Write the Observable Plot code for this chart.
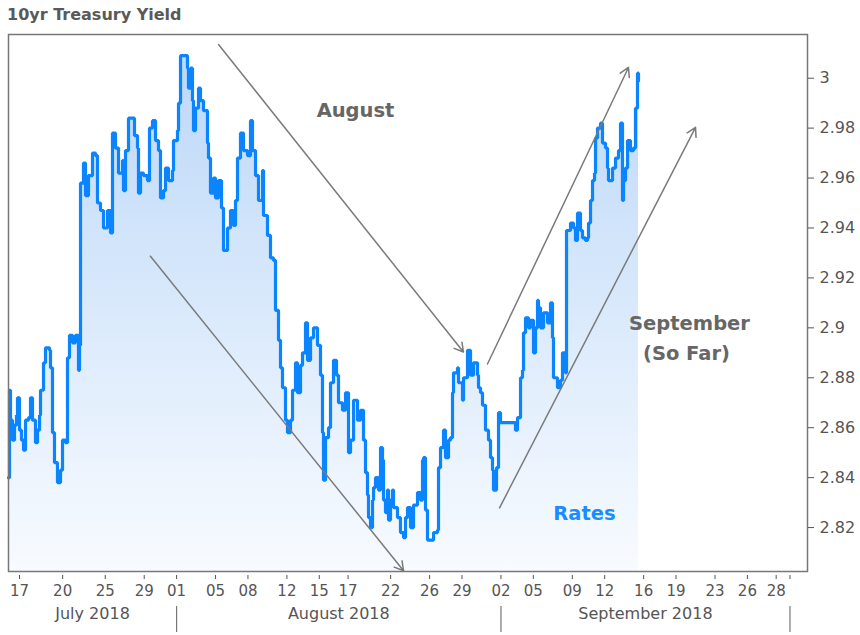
<!DOCTYPE html>
<html>
<head>
<meta charset="utf-8">
<script src="https://cdn.jsdelivr.net/npm/d3@7"></script>
<script src="https://cdn.jsdelivr.net/npm/@observablehq/plot@0.6"></script>
<style>
  body { margin: 0; background: #fff; }
  #title { font: bold 16px "DejaVu Sans", sans-serif; color: #595959; height: 30px; line-height: 30px; padding-left: 7px; white-space: nowrap; }
</style>
</head>
<body>
<div id="title">10yr Treasury Yield</div>
<div id="chart"></div>
<script>
// Time axis: trading days elapsed since the session open on Sun 15 Jul 2018, 18:00 (weekend gaps removed)
const tradingDays = [
0.486,0.556,0.625,0.764,0.903,1.042,1.112,1.251,1.390,1.529,
1.668,1.876,2.015,2.154,2.363,2.502,2.641,2.710,2.919,3.058,
3.336,3.405,3.544,3.683,3.891,4.100,4.239,4.447,4.586,4.725,
4.934,5.142,5.351,5.420,5.490,5.698,5.837,6.046,6.324,6.532,
6.671,6.880,7.088,7.366,7.574,7.713,7.922,8.130,8.408,8.478,
8.617,8.825,9.103,9.242,9.451,9.520,9.659,9.868,10.146,10.285,
10.493,10.702,10.910,11.049,11.257,11.396,11.605,11.883,11.952,12.230,
12.300,12.439,12.786,12.925,12.995,13.133,13.272,13.342,13.481,13.689,
13.828,14.037,14.315,14.384,14.523,14.732,14.871,15.079,15.288,15.427,
15.705,15.913,16.122,16.261,16.400,16.608,16.817,17.095,17.303,17.442,
17.651,17.859,18.137,18.207,18.485,18.693,18.902,19.041,19.249,19.388,
19.527,19.736,19.875,20.083,20.222,20.431,20.570,20.778,20.917,21.126,
21.265,21.473,21.682,21.960,22.168,22.307,22.377,22.516,22.724,22.863,
23.071,23.280,23.419,23.697,23.906,24.114,24.253,24.462,24.740,24.948,
25.157,25.296,25.435,25.504,25.643,25.782,25.852,25.990,26.199,26.338,
26.477,26.546,26.685,26.824,26.894,27.032,27.171,27.241,27.519,27.727,
27.936,28.075,28.214,28.422,28.631,28.909,29.117,29.256,29.326,29.465,
29.604,29.812,30.021,30.299,30.368,30.507,30.716,30.855,31.063,31.202,
31.341,31.411,31.689,31.758,32.036,32.106,32.384,32.592,32.801,33.079,
33.148,33.287,33.426,33.634,33.843,33.982,34.121,34.190,34.399,34.538,
34.677,35.580,35.719,35.858,36.067,36.206,36.275,36.414,36.623,36.762,
36.970,37.109,37.248,37.318,37.457,37.665,37.943,38.151,38.290,38.360,
38.638,38.846,38.985,39.194,39.263,39.541,39.750,39.889,40.028,40.236,
40.375,40.584,40.723,40.792,40.931,41.070,41.209,41.279,41.418,41.626,
41.765,41.974,42.113,42.182,42.460,42.669,42.877,43.016,43.155,43.225,
43.364,43.503,43.709,43.918,44.057,44.196,44.266
];
const yields = [
2.840,2.875,2.863,2.855,2.861,2.865,2.872,2.859,2.855,2.851,
2.863,2.864,2.872,2.863,2.854,2.859,2.865,2.875,2.886,2.892,
2.891,2.884,2.858,2.846,2.838,2.843,2.855,2.854,2.888,2.897,
2.894,2.897,2.883,2.893,2.958,2.966,2.953,2.961,2.970,2.969,
2.950,2.947,2.940,2.947,2.938,2.978,2.972,2.962,2.967,2.955,
2.971,2.984,2.984,2.977,2.972,2.954,2.962,2.961,2.959,2.980,
2.983,2.975,2.971,2.952,2.955,2.964,2.959,2.963,2.975,2.979,
2.990,3.009,3.009,3.004,2.996,3.004,2.991,2.979,2.988,2.996,
2.991,2.987,2.974,2.968,2.954,2.960,2.952,2.959,2.948,2.931,
2.940,2.947,2.941,2.951,2.968,2.978,2.971,2.969,2.983,2.971,
2.961,2.951,2.963,2.945,2.937,2.928,2.927,2.907,2.895,2.884,
2.876,2.863,2.858,2.863,2.875,2.886,2.874,2.885,2.890,2.902,
2.887,2.896,2.900,2.893,2.881,2.858,2.839,2.856,2.860,2.878,
2.887,2.881,2.870,2.867,2.874,2.850,2.855,2.871,2.863,2.867,
2.855,2.842,2.833,2.824,2.820,2.831,2.836,2.840,2.835,2.852,
2.847,2.831,2.826,2.835,2.823,2.831,2.835,2.828,2.824,2.818,
2.816,2.824,2.828,2.820,2.829,2.834,2.831,2.847,2.848,2.827,
2.815,2.815,2.818,2.819,2.844,2.852,2.859,2.848,2.855,2.856,
2.874,2.882,2.884,2.878,2.871,2.880,2.891,2.881,2.886,2.881,
2.876,2.874,2.869,2.859,2.855,2.848,2.843,2.835,2.844,2.866,
2.862,2.862,2.859,2.864,2.880,2.883,2.898,2.904,2.900,2.903,
2.890,2.900,2.911,2.908,2.900,2.906,2.902,2.910,2.896,2.880,
2.876,2.879,2.890,2.882,2.939,2.942,2.940,2.935,2.946,2.939,
2.936,2.935,2.936,2.942,2.951,2.959,2.962,2.976,2.980,2.982,
2.974,2.972,2.964,2.959,2.964,2.968,2.971,2.982,2.951,2.959,
2.964,2.975,2.971,2.972,2.988,3.002,2.999
];

const yTicks = [2.82, 2.84, 2.86, 2.88, 2.90, 2.92, 2.94, 2.96, 2.98, 3.00];
const yDomain = [2.8024, 3.0175];
const xDomain = [0.486, 56.01];

const tickDates = ["2018-07-17","2018-07-20","2018-07-25","2018-07-29","2018-08-01","2018-08-05","2018-08-08","2018-08-12","2018-08-15","2018-08-17","2018-08-22","2018-08-26","2018-08-29","2018-09-02","2018-09-05","2018-09-09","2018-09-12","2018-09-16","2018-09-19","2018-09-23","2018-09-26","2018-09-28"];
const tickLabels = ["17","20","25","29","01","05","08","12","15","17","22","26","29","02","05","09","12","16","19","23","26","28"];

const monthNames = ["July 2018", "August 2018", "September 2018"];
const monthStarts = ["2018-07-01", "2018-08-01", "2018-09-01", "2018-10-01"];

const noteText = ["August", "September", "(So Far)", "Rates"];
const noteDay = [24.60, 47.81, 47.60, 40.51];
const noteYield = [2.9871, 2.9015, 2.8895, 2.8255];
const noteColor = ["#666666", "#666666", "#666666", "#1a8cff"];

const arrowDay1 = [15.08, 10.35, 33.77, 34.61];
const arrowYield1 = [3.0135, 2.9287, 2.8855, 2.8279];
const arrowDay2 = [32.10, 27.94, 43.57, 48.23];
const arrowYield2 = [2.8903, 2.8027, 3.0043, 2.9803];

// trading-time transform: weekends (Fri 17:00 -> Sun 18:00) are removed
const DAY = 864e5, WEEK = 4 + 23 / 24, base = Date.UTC(2018, 6, 15, 18);
function tradingTime(s) {
  const days = (Date.parse(s + "T00:00:00Z") - base) / DAY;
  const w = Math.floor(days / 7);
  return w * WEEK + Math.min(days - w * 7, WEEK);
}

const n = Math.min(tradingDays.length, yields.length);
const series = d3.range(n).map(i => ({t: tradingDays[i], v: yields[i]}));
const tickPos = tickDates.map(tradingTime);
const labelMap = new Map(tickPos.map((p, i) => [p, tickLabels[i]]));
const boundPos = monthStarts.map(tradingTime);
const axisTicks = tickPos.concat([boundPos[3]]);
const months = monthNames.map((name, i) => {
  const a = Math.max(xDomain[0], boundPos[i]), b = Math.min(xDomain[1], boundPos[i + 1]);
  return {name, c: (a + b) / 2};
});
const notes = noteText.map((text, i) => ({text, t: noteDay[i], v: noteYield[i], color: noteColor[i]}));
const arrows = arrowDay1.map((d, i) => ({x1: d, y1: arrowYield1[i], x2: arrowDay2[i], y2: arrowYield2[i]}));

const chart = Plot.plot({
  width: 860,
  height: 605,
  marginLeft: 8,
  marginRight: 53,
  marginTop: 4,
  marginBottom: 64,
  style: {fontFamily: "DejaVu Sans, sans-serif", background: "white", overflow: "visible"},
  x: {type: "linear", domain: xDomain},
  y: {domain: yDomain},
  marks: [
    Plot.areaY(series, {x: "t", y1: yDomain[0], y2: "v", curve: "step-after", fill: "url(#fillGrad)"}),
    Plot.lineY(series, {x: "t", y: "v", curve: "step-after", stroke: "#0a84ff", strokeWidth: 3.2, strokeLinejoin: "miter"}),
    Plot.arrow(arrows, {x1: "x1", y1: "y1", x2: "x2", y2: "y2", stroke: "#7a7a7a", strokeWidth: 1.5, headLength: 10}),
    Plot.text(notes, {x: "t", y: "v", text: "text", fill: "color", fontWeight: "bold", fontSize: 19.5}),
    Plot.frame({stroke: "#777", strokeWidth: 1.5}),
    Plot.axisY({anchor: "right", ticks: yTicks, tickSize: 6, tickPadding: 6, tickFormat: d => String(+d.toFixed(2)), fontSize: 16, color: "#555", label: null}),
    Plot.axisX({ticks: axisTicks, tickFormat: d => labelMap.get(d) ?? "", tickSize: 4, dy: 4, tickPadding: 6, fontSize: 15, color: "#555", label: null}),
    Plot.ruleX(boundPos.slice(1), {insetTop: 572, insetBottom: -61, stroke: "#777", strokeWidth: 1.2}),
    Plot.text(months, {x: "c", text: "name", frameAnchor: "bottom", dy: 47, fontSize: 16, fill: "#555"})
  ]
});

const defs = d3.select(chart).insert("defs", ":first-child");
const grad = defs.append("linearGradient").attr("id", "fillGrad").attr("x1", 0).attr("y1", 0).attr("x2", 0).attr("y2", 1);
grad.append("stop").attr("offset", "0%").attr("stop-color", "#bcd8f8");
grad.append("stop").attr("offset", "100%").attr("stop-color", "#f8fbff");

document.getElementById("chart").appendChild(chart);
</script>
</body>
</html>
